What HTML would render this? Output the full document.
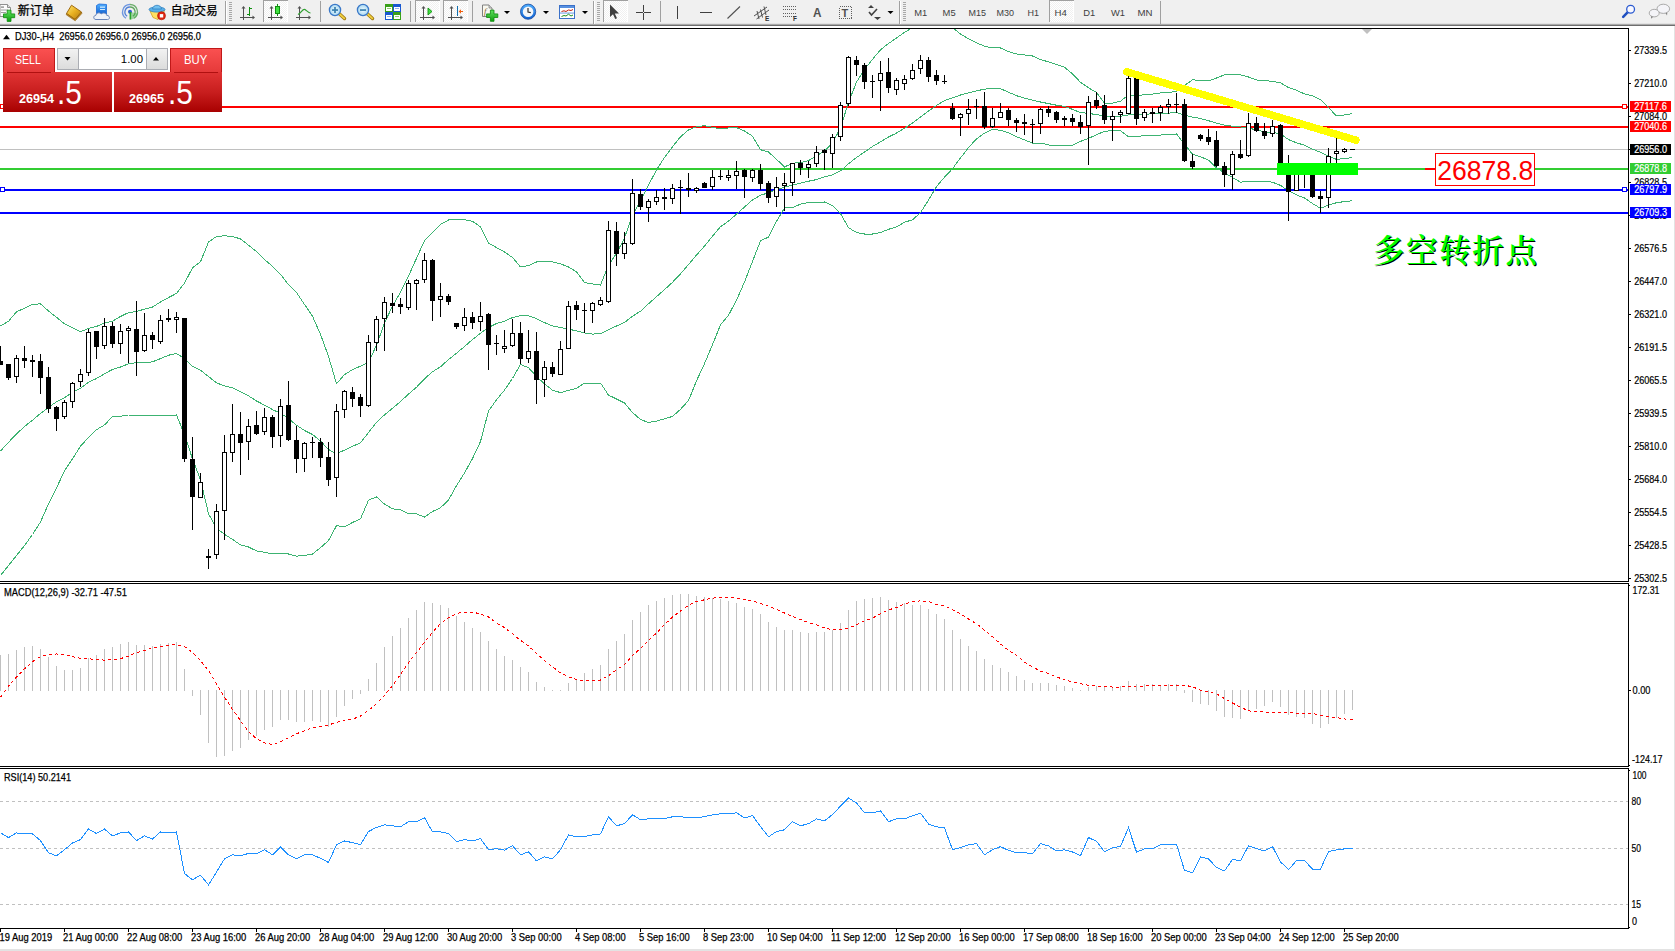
<!DOCTYPE html>
<html><head><meta charset="utf-8"><title>DJ30-,H4</title>
<style>
html,body{margin:0;padding:0;background:#fff;}
body{width:1675px;height:951px;position:relative;overflow:hidden;font-family:"Liberation Sans","Noto Sans CJK SC",sans-serif;}
#tb{position:absolute;left:0;top:0;width:1675px;height:24px;background:#f0f0f0;}
#tbl0{position:absolute;left:0;top:23px;width:1675px;height:1px;background:#e2e2e2;}
#tbl1{position:absolute;left:0;top:24px;width:1675px;height:1px;background:#aaaaaa;}
#tbl2{position:absolute;left:0;top:25px;width:1675px;height:1px;background:#6e6e6e;}
#redge{position:absolute;left:1674px;top:26px;width:1px;height:925px;background:#e3e3e3;}
#bedge{position:absolute;left:0;top:949px;width:1675px;height:2px;background:#e3e3e3;}
</style></head><body>
<svg id="chart" width="1675" height="951" viewBox="0 0 1675 951" style="position:absolute;left:0;top:0" shape-rendering="crispEdges" font-family="Liberation Sans, Arial, sans-serif">
<defs><clipPath id="cm"><rect x="0" y="29" width="1628" height="552"/></clipPath><clipPath id="cd"><rect x="0" y="584" width="1628" height="182"/></clipPath><clipPath id="cr"><rect x="0" y="769" width="1628" height="159"/></clipPath></defs>
<g fill="#000">
<rect x="0" y="28" width="1629" height="1"/>
<rect x="0" y="581" width="1629" height="1"/>
<rect x="0" y="583" width="1629" height="1"/>
<rect x="0" y="766" width="1629" height="1"/>
<rect x="0" y="768" width="1629" height="1"/>
<rect x="0" y="928" width="1629" height="1"/>
<rect x="1628" y="28" width="1" height="554"/>
<rect x="1628" y="583" width="1" height="184"/>
<rect x="1628" y="768" width="1" height="161"/>
<rect x="1629" y="585" width="1" height="1"/>
<rect x="1629" y="765" width="1" height="1"/>
<rect x="1629" y="770" width="1" height="1"/>
<rect x="1629" y="927" width="1" height="1"/>
</g>
<g clip-path="url(#cm)">
<rect x="0" y="149" width="1628" height="1" fill="#c0c0c0"/>
<rect x="0" y="106" width="1628" height="2" fill="#ff0000"/>
<rect x="0" y="126" width="1628" height="2" fill="#ff0000"/>
<rect x="0" y="168" width="1628" height="2" fill="#32cd32"/>
<rect x="0" y="189" width="1628" height="2" fill="#0000ff"/>
<rect x="0" y="212" width="1628" height="2" fill="#0000ff"/>
<rect x="1622.5" y="104.5" width="4" height="4" fill="#fff" stroke="#ff0000" stroke-width="1"/>
<rect x="1622.5" y="187.5" width="4" height="4" fill="#fff" stroke="#0000ff" stroke-width="1"/>
<rect x="0.5" y="187.5" width="4" height="4" fill="#fff" stroke="#0000ff" stroke-width="1"/>
<rect x="0.5" y="104.5" width="4" height="4" fill="#fff" stroke="#ff0000" stroke-width="1"/>
<polyline points="0.5,326.0 8.5,321.3 16.5,311.8 24.5,308.2 32.5,304.2 40.5,303.9 48.5,311.0 56.5,317.3 64.5,323.9 72.5,327.6 80.5,331.8 88.5,328.4 96.5,326.5 104.5,322.8 112.5,321.3 120.5,316.5 128.5,312.6 136.5,311.5 144.5,309.1 152.5,307.1 160.5,302.0 168.5,297.6 176.5,293.4 184.5,283.1 192.5,267.8 200.5,261.8 208.5,242.1 216.5,236.5 224.5,235.8 232.5,236.5 240.5,238.9 248.5,245.2 256.5,251.5 264.5,259.4 272.5,266.5 280.5,274.4 288.5,284.6 296.5,292.5 304.5,304.4 312.5,316.2 320.5,334.3 328.5,356.4 336.5,383.7 344.5,374.6 352.5,369.7 360.5,366.1 368.5,362.5 376.5,345.1 384.5,323.1 392.5,306.0 400.5,292.3 408.5,276.1 416.5,258.3 424.5,240.7 432.5,232.8 440.5,224.4 448.5,220.0 456.5,219.7 464.5,219.7 472.5,221.3 480.5,226.8 488.5,243.0 496.5,247.6 504.5,252.0 512.5,257.5 520.5,267.0 528.5,265.6 536.5,262.0 544.5,261.8 552.5,261.8 560.5,263.8 568.5,267.0 576.5,271.9 584.5,282.5 592.5,283.9 600.5,285.0 608.5,265.0 616.5,253.5 624.5,237.8 632.5,215.7 640.5,200.7 648.5,185.1 656.5,169.9 664.5,157.5 672.5,146.8 680.5,136.8 688.5,129.9 696.5,126.8 704.5,125.7 712.5,127.3 720.5,128.9 728.5,128.0 736.5,127.6 744.5,131.0 752.5,136.2 760.5,149.7 768.5,152.0 776.5,159.3 784.5,167.0 792.5,163.2 800.5,162.5 808.5,160.7 816.5,155.7 824.5,151.0 832.5,143.1 840.5,127.8 848.5,102.5 856.5,82.1 864.5,69.5 872.5,59.3 880.5,49.8 888.5,43.5 896.5,38.0 904.5,32.4 912.5,27.5 920.5,23.5 928.5,21.5 936.5,21.5 944.5,23.5 952.5,27.5 960.5,34.0 968.5,38.8 976.5,42.7 984.5,46.3 992.5,47.9 1000.5,48.0 1008.5,51.7 1016.5,53.9 1024.5,55.0 1032.5,56.0 1040.5,59.7 1048.5,61.8 1056.5,64.5 1064.5,67.3 1072.5,73.9 1080.5,82.3 1088.5,87.8 1096.5,92.5 1104.5,103.1 1112.5,103.1 1120.5,101.2 1128.5,94.9 1136.5,95.2 1144.5,94.9 1152.5,94.1 1160.5,93.0 1168.5,92.5 1176.5,91.3 1184.5,85.5 1192.5,79.9 1200.5,80.3 1208.5,80.8 1216.5,78.0 1224.5,74.8 1232.5,74.8 1240.5,74.8 1248.5,77.0 1256.5,80.0 1264.5,80.5 1272.5,81.4 1280.5,82.9 1288.5,87.6 1296.5,90.3 1304.5,93.9 1312.5,95.8 1320.5,99.7 1328.5,107.6 1336.5,116.0 1344.5,114.9 1352.5,113.6" fill="none" stroke="#3cb371" stroke-width="1" />
<polyline points="0.5,451.0 8.5,442.3 16.5,434.0 24.5,426.5 32.5,420.2 40.5,413.5 48.5,407.5 56.5,401.7 64.5,397.8 72.5,392.2 80.5,388.3 88.5,382.3 96.5,378.5 104.5,373.8 112.5,369.4 120.5,367.0 128.5,363.8 136.5,362.7 144.5,362.7 152.5,361.8 160.5,358.6 168.5,355.2 176.5,353.6 184.5,358.3 192.5,366.2 200.5,370.2 208.5,376.5 216.5,382.9 224.5,385.8 232.5,387.9 240.5,391.8 248.5,395.9 256.5,401.0 264.5,405.1 272.5,409.6 280.5,413.3 288.5,418.5 296.5,425.2 304.5,430.5 312.5,434.5 320.5,441.0 328.5,449.5 336.5,453.7 344.5,450.1 352.5,446.3 360.5,442.9 368.5,432.5 376.5,422.3 384.5,414.9 392.5,408.3 400.5,401.5 408.5,394.1 416.5,387.3 424.5,378.8 432.5,371.8 440.5,366.8 448.5,359.6 456.5,353.2 464.5,346.5 472.5,339.6 480.5,333.3 488.5,327.5 496.5,323.5 504.5,321.3 512.5,317.5 520.5,315.7 528.5,315.9 536.5,318.6 544.5,322.6 552.5,325.9 560.5,327.6 568.5,329.1 576.5,330.9 584.5,333.0 592.5,334.1 600.5,333.7 608.5,329.6 616.5,326.0 624.5,322.5 632.5,316.2 640.5,311.2 648.5,303.8 656.5,296.7 664.5,289.6 672.5,282.3 680.5,273.8 688.5,264.6 696.5,255.1 704.5,246.1 712.5,236.2 720.5,226.7 728.5,221.2 736.5,214.1 744.5,207.0 752.5,199.9 760.5,195.2 768.5,192.8 776.5,189.8 784.5,187.1 792.5,185.1 800.5,183.2 808.5,181.2 816.5,179.6 824.5,176.9 832.5,174.9 840.5,170.9 848.5,163.8 856.5,157.5 864.5,152.0 872.5,146.5 880.5,141.8 888.5,137.0 896.5,133.1 904.5,128.3 912.5,123.0 920.5,117.0 928.5,111.1 936.5,105.5 944.5,100.7 952.5,97.8 960.5,95.0 968.5,92.9 976.5,90.8 984.5,89.2 992.5,88.4 1000.5,88.7 1008.5,92.2 1016.5,95.7 1024.5,98.1 1032.5,100.1 1040.5,102.0 1048.5,103.6 1056.5,105.2 1064.5,106.4 1072.5,109.4 1080.5,112.6 1088.5,113.4 1096.5,114.6 1104.5,115.9 1112.5,116.2 1120.5,116.2 1128.5,114.9 1136.5,114.6 1144.5,114.3 1152.5,113.8 1160.5,113.4 1168.5,113.1 1176.5,112.7 1184.5,115.0 1192.5,117.1 1200.5,118.5 1208.5,120.7 1216.5,123.1 1224.5,125.1 1232.5,126.2 1240.5,127.0 1248.5,127.8 1256.5,130.2 1264.5,131.8 1272.5,132.5 1280.5,133.7 1288.5,139.6 1296.5,142.8 1304.5,145.2 1312.5,149.1 1320.5,152.3 1328.5,156.2 1336.5,159.4 1344.5,158.6 1352.5,157.5" fill="none" stroke="#3cb371" stroke-width="1" />
<polyline points="0.5,575.5 8.5,565.5 16.5,555.5 24.5,545.5 32.5,534.5 40.5,522.0 48.5,503.8 56.5,488.0 64.5,470.7 72.5,458.9 80.5,446.2 88.5,437.5 96.5,429.7 104.5,424.9 112.5,416.7 120.5,416.3 128.5,415.0 136.5,415.0 144.5,415.0 152.5,415.0 160.5,416.0 168.5,415.2 176.5,415.0 184.5,434.5 192.5,459.0 200.5,479.7 208.5,513.8 216.5,528.0 224.5,534.3 232.5,539.4 240.5,544.9 248.5,547.0 256.5,550.9 264.5,552.2 272.5,554.0 280.5,553.3 288.5,554.0 296.5,556.1 304.5,555.5 312.5,554.0 320.5,547.7 328.5,540.6 336.5,525.7 344.5,526.9 352.5,522.5 360.5,518.9 368.5,500.2 376.5,496.9 384.5,504.1 392.5,508.8 400.5,509.9 408.5,513.9 416.5,513.9 424.5,517.0 432.5,511.5 440.5,507.8 448.5,499.9 456.5,485.7 464.5,473.0 472.5,458.5 480.5,441.5 488.5,411.0 496.5,399.8 504.5,390.1 512.5,378.5 520.5,364.5 528.5,367.7 536.5,376.5 544.5,383.9 552.5,390.2 560.5,392.6 568.5,390.4 576.5,388.5 584.5,383.0 592.5,383.0 600.5,383.0 608.5,395.1 616.5,399.0 624.5,403.0 632.5,412.5 640.5,419.5 648.5,422.5 656.5,421.1 664.5,418.8 672.5,416.4 680.5,409.3 688.5,400.6 696.5,380.9 704.5,363.6 712.5,344.6 720.5,324.9 728.5,315.3 736.5,300.1 744.5,282.0 752.5,261.4 760.5,240.9 768.5,237.0 776.5,221.3 784.5,207.9 792.5,207.6 800.5,204.1 808.5,202.5 816.5,202.5 824.5,202.0 832.5,205.6 840.5,213.5 848.5,227.7 856.5,232.5 864.5,234.0 872.5,234.0 880.5,232.5 888.5,229.3 896.5,226.9 904.5,222.2 912.5,219.8 920.5,212.7 928.5,200.1 936.5,186.7 944.5,177.1 952.5,168.7 960.5,158.0 968.5,147.5 976.5,138.9 984.5,133.1 992.5,129.4 1000.5,130.3 1008.5,132.7 1016.5,136.7 1024.5,139.9 1032.5,143.0 1040.5,143.0 1048.5,144.9 1056.5,145.9 1064.5,145.9 1072.5,145.4 1080.5,141.4 1088.5,138.3 1096.5,134.8 1104.5,131.2 1112.5,130.7 1120.5,130.7 1128.5,136.7 1136.5,136.7 1144.5,135.5 1152.5,135.5 1160.5,135.1 1168.5,134.3 1176.5,134.0 1184.5,144.1 1192.5,154.3 1200.5,156.7 1208.5,160.2 1216.5,168.0 1224.5,172.8 1232.5,177.5 1240.5,182.2 1248.5,181.4 1256.5,181.1 1264.5,181.4 1272.5,182.2 1280.5,185.4 1288.5,190.9 1296.5,194.9 1304.5,198.0 1312.5,203.5 1320.5,208.3 1328.5,205.1 1336.5,202.7 1344.5,201.6 1352.5,200.7" fill="none" stroke="#3cb371" stroke-width="1" />
<g fill="#000">
<rect x="0" y="346" width="1" height="19"/>
<rect x="-2" y="361" width="5" height="4"/>
<rect x="8" y="364" width="1" height="16"/>
<rect x="6" y="364" width="5" height="14"/>
<rect x="16" y="355" width="1" height="28"/>
<rect x="14" y="358" width="5" height="19"/>
<rect x="15" y="359" width="3" height="17" fill="#fff"/>
<rect x="24" y="346" width="1" height="22"/>
<rect x="22" y="358" width="5" height="3"/>
<rect x="32" y="355" width="1" height="22"/>
<rect x="30" y="360" width="5" height="2"/>
<rect x="40" y="354" width="1" height="40"/>
<rect x="38" y="361" width="5" height="17"/>
<rect x="48" y="367" width="1" height="46"/>
<rect x="46" y="377" width="5" height="32"/>
<rect x="56" y="406" width="1" height="25"/>
<rect x="54" y="407" width="5" height="12"/>
<rect x="64" y="400" width="1" height="19"/>
<rect x="62" y="402" width="5" height="15"/>
<rect x="63" y="403" width="3" height="13" fill="#fff"/>
<rect x="72" y="382" width="1" height="26"/>
<rect x="70" y="383" width="5" height="19"/>
<rect x="71" y="384" width="3" height="17" fill="#fff"/>
<rect x="80" y="369" width="1" height="18"/>
<rect x="78" y="374" width="5" height="8"/>
<rect x="79" y="375" width="3" height="6" fill="#fff"/>
<rect x="88" y="329" width="1" height="47"/>
<rect x="86" y="332" width="5" height="41"/>
<rect x="87" y="333" width="3" height="39" fill="#fff"/>
<rect x="96" y="331" width="1" height="28"/>
<rect x="94" y="331" width="5" height="16"/>
<rect x="104" y="318" width="1" height="31"/>
<rect x="102" y="326" width="5" height="20"/>
<rect x="103" y="327" width="3" height="18" fill="#fff"/>
<rect x="112" y="322" width="1" height="26"/>
<rect x="110" y="326" width="5" height="18"/>
<rect x="120" y="324" width="1" height="30"/>
<rect x="118" y="331" width="5" height="13"/>
<rect x="119" y="332" width="3" height="11" fill="#fff"/>
<rect x="128" y="326" width="1" height="37"/>
<rect x="126" y="328" width="5" height="3"/>
<rect x="127" y="329" width="3" height="1" fill="#fff"/>
<rect x="136" y="301" width="1" height="75"/>
<rect x="134" y="329" width="5" height="23"/>
<rect x="144" y="313" width="1" height="39"/>
<rect x="142" y="335" width="5" height="16"/>
<rect x="143" y="336" width="3" height="14" fill="#fff"/>
<rect x="152" y="332" width="1" height="17"/>
<rect x="150" y="335" width="5" height="5"/>
<rect x="160" y="315" width="1" height="29"/>
<rect x="158" y="320" width="5" height="22"/>
<rect x="159" y="321" width="3" height="20" fill="#fff"/>
<rect x="168" y="309" width="1" height="13"/>
<rect x="166" y="318" width="5" height="2"/>
<rect x="176" y="312" width="1" height="21"/>
<rect x="174" y="317" width="5" height="3"/>
<rect x="175" y="318" width="3" height="1" fill="#fff"/>
<rect x="184" y="318" width="1" height="144"/>
<rect x="182" y="318" width="5" height="141"/>
<rect x="192" y="437" width="1" height="93"/>
<rect x="190" y="459" width="5" height="38"/>
<rect x="200" y="473" width="1" height="25"/>
<rect x="198" y="482" width="5" height="16"/>
<rect x="199" y="483" width="3" height="14" fill="#fff"/>
<rect x="208" y="549" width="1" height="20"/>
<rect x="206" y="556" width="5" height="2"/>
<rect x="216" y="504" width="1" height="55"/>
<rect x="214" y="511" width="5" height="44"/>
<rect x="215" y="512" width="3" height="42" fill="#fff"/>
<rect x="224" y="435" width="1" height="105"/>
<rect x="222" y="452" width="5" height="59"/>
<rect x="223" y="453" width="3" height="57" fill="#fff"/>
<rect x="232" y="404" width="1" height="58"/>
<rect x="230" y="434" width="5" height="19"/>
<rect x="231" y="435" width="3" height="17" fill="#fff"/>
<rect x="240" y="412" width="1" height="63"/>
<rect x="238" y="434" width="5" height="9"/>
<rect x="248" y="419" width="1" height="41"/>
<rect x="246" y="426" width="5" height="16"/>
<rect x="247" y="427" width="3" height="14" fill="#fff"/>
<rect x="256" y="411" width="1" height="24"/>
<rect x="254" y="425" width="5" height="9"/>
<rect x="264" y="408" width="1" height="27"/>
<rect x="262" y="417" width="5" height="15"/>
<rect x="263" y="418" width="3" height="13" fill="#fff"/>
<rect x="272" y="415" width="1" height="33"/>
<rect x="270" y="417" width="5" height="20"/>
<rect x="280" y="399" width="1" height="48"/>
<rect x="278" y="406" width="5" height="30"/>
<rect x="279" y="407" width="3" height="28" fill="#fff"/>
<rect x="288" y="381" width="1" height="60"/>
<rect x="286" y="405" width="5" height="35"/>
<rect x="296" y="426" width="1" height="47"/>
<rect x="294" y="440" width="5" height="19"/>
<rect x="304" y="442" width="1" height="30"/>
<rect x="302" y="443" width="5" height="16"/>
<rect x="303" y="444" width="3" height="14" fill="#fff"/>
<rect x="312" y="437" width="1" height="21"/>
<rect x="310" y="442" width="5" height="1"/>
<rect x="320" y="438" width="1" height="29"/>
<rect x="318" y="442" width="5" height="16"/>
<rect x="328" y="442" width="1" height="44"/>
<rect x="326" y="457" width="5" height="23"/>
<rect x="336" y="404" width="1" height="93"/>
<rect x="334" y="411" width="5" height="67"/>
<rect x="335" y="412" width="3" height="65" fill="#fff"/>
<rect x="344" y="390" width="1" height="28"/>
<rect x="342" y="391" width="5" height="19"/>
<rect x="343" y="392" width="3" height="17" fill="#fff"/>
<rect x="352" y="387" width="1" height="20"/>
<rect x="350" y="392" width="5" height="7"/>
<rect x="360" y="394" width="1" height="23"/>
<rect x="358" y="397" width="5" height="9"/>
<rect x="368" y="335" width="1" height="72"/>
<rect x="366" y="342" width="5" height="64"/>
<rect x="367" y="343" width="3" height="62" fill="#fff"/>
<rect x="376" y="316" width="1" height="35"/>
<rect x="374" y="319" width="5" height="24"/>
<rect x="375" y="320" width="3" height="22" fill="#fff"/>
<rect x="384" y="297" width="1" height="54"/>
<rect x="382" y="302" width="5" height="17"/>
<rect x="383" y="303" width="3" height="15" fill="#fff"/>
<rect x="392" y="293" width="1" height="20"/>
<rect x="390" y="303" width="5" height="3"/>
<rect x="400" y="298" width="1" height="16"/>
<rect x="398" y="304" width="5" height="3"/>
<rect x="408" y="280" width="1" height="30"/>
<rect x="406" y="283" width="5" height="25"/>
<rect x="407" y="284" width="3" height="23" fill="#fff"/>
<rect x="416" y="279" width="1" height="31"/>
<rect x="414" y="280" width="5" height="4"/>
<rect x="415" y="281" width="3" height="2" fill="#fff"/>
<rect x="424" y="253" width="1" height="30"/>
<rect x="422" y="260" width="5" height="20"/>
<rect x="423" y="261" width="3" height="18" fill="#fff"/>
<rect x="432" y="259" width="1" height="62"/>
<rect x="430" y="260" width="5" height="41"/>
<rect x="440" y="283" width="1" height="34"/>
<rect x="438" y="296" width="5" height="4"/>
<rect x="439" y="297" width="3" height="2" fill="#fff"/>
<rect x="448" y="294" width="1" height="11"/>
<rect x="446" y="296" width="5" height="6"/>
<rect x="456" y="323" width="1" height="6"/>
<rect x="454" y="323" width="5" height="4"/>
<rect x="464" y="308" width="1" height="23"/>
<rect x="462" y="317" width="5" height="9"/>
<rect x="463" y="318" width="3" height="7" fill="#fff"/>
<rect x="472" y="312" width="1" height="17"/>
<rect x="470" y="317" width="5" height="6"/>
<rect x="480" y="302" width="1" height="29"/>
<rect x="478" y="316" width="5" height="6"/>
<rect x="479" y="317" width="3" height="4" fill="#fff"/>
<rect x="488" y="313" width="1" height="57"/>
<rect x="486" y="314" width="5" height="31"/>
<rect x="496" y="335" width="1" height="20"/>
<rect x="494" y="343" width="5" height="1"/>
<rect x="504" y="330" width="1" height="23"/>
<rect x="502" y="346" width="5" height="3"/>
<rect x="503" y="347" width="3" height="1" fill="#fff"/>
<rect x="512" y="319" width="1" height="28"/>
<rect x="510" y="333" width="5" height="13"/>
<rect x="511" y="334" width="3" height="11" fill="#fff"/>
<rect x="520" y="322" width="1" height="42"/>
<rect x="518" y="333" width="5" height="26"/>
<rect x="528" y="330" width="1" height="33"/>
<rect x="526" y="351" width="5" height="8"/>
<rect x="527" y="352" width="3" height="6" fill="#fff"/>
<rect x="536" y="332" width="1" height="72"/>
<rect x="534" y="351" width="5" height="29"/>
<rect x="544" y="361" width="1" height="36"/>
<rect x="542" y="367" width="5" height="13"/>
<rect x="543" y="368" width="3" height="11" fill="#fff"/>
<rect x="552" y="362" width="1" height="15"/>
<rect x="550" y="367" width="5" height="7"/>
<rect x="560" y="341" width="1" height="34"/>
<rect x="558" y="349" width="5" height="26"/>
<rect x="559" y="350" width="3" height="24" fill="#fff"/>
<rect x="568" y="301" width="1" height="48"/>
<rect x="566" y="306" width="5" height="43"/>
<rect x="567" y="307" width="3" height="41" fill="#fff"/>
<rect x="576" y="301" width="1" height="19"/>
<rect x="574" y="305" width="5" height="5"/>
<rect x="584" y="303" width="1" height="30"/>
<rect x="582" y="310" width="5" height="1"/>
<rect x="592" y="302" width="1" height="21"/>
<rect x="590" y="303" width="5" height="8"/>
<rect x="591" y="304" width="3" height="6" fill="#fff"/>
<rect x="600" y="297" width="1" height="9"/>
<rect x="598" y="300" width="5" height="5"/>
<rect x="599" y="301" width="3" height="3" fill="#fff"/>
<rect x="608" y="221" width="1" height="82"/>
<rect x="606" y="230" width="5" height="72"/>
<rect x="607" y="231" width="3" height="70" fill="#fff"/>
<rect x="616" y="222" width="1" height="44"/>
<rect x="614" y="231" width="5" height="23"/>
<rect x="624" y="232" width="1" height="27"/>
<rect x="622" y="243" width="5" height="11"/>
<rect x="623" y="244" width="3" height="9" fill="#fff"/>
<rect x="632" y="179" width="1" height="66"/>
<rect x="630" y="193" width="5" height="51"/>
<rect x="631" y="194" width="3" height="49" fill="#fff"/>
<rect x="640" y="189" width="1" height="21"/>
<rect x="638" y="194" width="5" height="13"/>
<rect x="648" y="199" width="1" height="23"/>
<rect x="646" y="201" width="5" height="7"/>
<rect x="647" y="202" width="3" height="5" fill="#fff"/>
<rect x="656" y="190" width="1" height="15"/>
<rect x="654" y="197" width="5" height="5"/>
<rect x="655" y="198" width="3" height="3" fill="#fff"/>
<rect x="664" y="188" width="1" height="22"/>
<rect x="662" y="197" width="5" height="2"/>
<rect x="672" y="184" width="1" height="20"/>
<rect x="670" y="188" width="5" height="11"/>
<rect x="671" y="189" width="3" height="9" fill="#fff"/>
<rect x="680" y="180" width="1" height="34"/>
<rect x="678" y="187" width="5" height="1"/>
<rect x="688" y="173" width="1" height="24"/>
<rect x="686" y="188" width="5" height="2"/>
<rect x="696" y="187" width="1" height="6"/>
<rect x="694" y="188" width="5" height="3"/>
<rect x="695" y="189" width="3" height="1" fill="#fff"/>
<rect x="704" y="182" width="1" height="6"/>
<rect x="702" y="183" width="5" height="5"/>
<rect x="712" y="170" width="1" height="20"/>
<rect x="710" y="177" width="5" height="10"/>
<rect x="711" y="178" width="3" height="8" fill="#fff"/>
<rect x="720" y="170" width="1" height="10"/>
<rect x="718" y="176" width="5" height="1"/>
<rect x="728" y="170" width="1" height="11"/>
<rect x="726" y="175" width="5" height="3"/>
<rect x="727" y="176" width="3" height="1" fill="#fff"/>
<rect x="736" y="161" width="1" height="28"/>
<rect x="734" y="171" width="5" height="5"/>
<rect x="735" y="172" width="3" height="3" fill="#fff"/>
<rect x="744" y="169" width="1" height="29"/>
<rect x="742" y="170" width="5" height="7"/>
<rect x="752" y="169" width="1" height="13"/>
<rect x="750" y="170" width="5" height="8"/>
<rect x="751" y="171" width="3" height="6" fill="#fff"/>
<rect x="760" y="164" width="1" height="26"/>
<rect x="758" y="170" width="5" height="14"/>
<rect x="768" y="181" width="1" height="22"/>
<rect x="766" y="183" width="5" height="15"/>
<rect x="776" y="177" width="1" height="30"/>
<rect x="774" y="187" width="5" height="10"/>
<rect x="775" y="188" width="3" height="8" fill="#fff"/>
<rect x="784" y="173" width="1" height="38"/>
<rect x="782" y="183" width="5" height="3"/>
<rect x="783" y="184" width="3" height="1" fill="#fff"/>
<rect x="792" y="163" width="1" height="33"/>
<rect x="790" y="163" width="5" height="20"/>
<rect x="791" y="164" width="3" height="18" fill="#fff"/>
<rect x="800" y="160" width="1" height="15"/>
<rect x="798" y="163" width="5" height="5"/>
<rect x="808" y="161" width="1" height="17"/>
<rect x="806" y="164" width="5" height="4"/>
<rect x="807" y="165" width="3" height="2" fill="#fff"/>
<rect x="816" y="146" width="1" height="21"/>
<rect x="814" y="152" width="5" height="12"/>
<rect x="815" y="153" width="3" height="10" fill="#fff"/>
<rect x="824" y="149" width="1" height="21"/>
<rect x="822" y="150" width="5" height="3"/>
<rect x="832" y="134" width="1" height="34"/>
<rect x="830" y="137" width="5" height="17"/>
<rect x="831" y="138" width="3" height="15" fill="#fff"/>
<rect x="840" y="102" width="1" height="39"/>
<rect x="838" y="105" width="5" height="32"/>
<rect x="839" y="106" width="3" height="30" fill="#fff"/>
<rect x="848" y="56" width="1" height="50"/>
<rect x="846" y="57" width="5" height="47"/>
<rect x="847" y="58" width="3" height="45" fill="#fff"/>
<rect x="856" y="56" width="1" height="20"/>
<rect x="854" y="60" width="5" height="5"/>
<rect x="864" y="63" width="1" height="26"/>
<rect x="862" y="65" width="5" height="17"/>
<rect x="872" y="75" width="1" height="23"/>
<rect x="870" y="81" width="5" height="1"/>
<rect x="880" y="61" width="1" height="50"/>
<rect x="878" y="73" width="5" height="8"/>
<rect x="879" y="74" width="3" height="6" fill="#fff"/>
<rect x="888" y="58" width="1" height="35"/>
<rect x="886" y="72" width="5" height="16"/>
<rect x="896" y="78" width="1" height="17"/>
<rect x="894" y="80" width="5" height="10"/>
<rect x="895" y="81" width="3" height="8" fill="#fff"/>
<rect x="904" y="75" width="1" height="15"/>
<rect x="902" y="79" width="5" height="5"/>
<rect x="903" y="80" width="3" height="3" fill="#fff"/>
<rect x="912" y="64" width="1" height="16"/>
<rect x="910" y="70" width="5" height="9"/>
<rect x="911" y="71" width="3" height="7" fill="#fff"/>
<rect x="920" y="55" width="1" height="19"/>
<rect x="918" y="60" width="5" height="9"/>
<rect x="919" y="61" width="3" height="7" fill="#fff"/>
<rect x="928" y="57" width="1" height="25"/>
<rect x="926" y="60" width="5" height="17"/>
<rect x="936" y="70" width="1" height="15"/>
<rect x="934" y="75" width="5" height="6"/>
<rect x="944" y="75" width="1" height="9"/>
<rect x="942" y="81" width="5" height="1"/>
<rect x="952" y="103" width="1" height="17"/>
<rect x="950" y="108" width="5" height="11"/>
<rect x="960" y="113" width="1" height="23"/>
<rect x="958" y="114" width="5" height="4"/>
<rect x="959" y="115" width="3" height="2" fill="#fff"/>
<rect x="968" y="99" width="1" height="26"/>
<rect x="966" y="109" width="5" height="5"/>
<rect x="967" y="110" width="3" height="3" fill="#fff"/>
<rect x="976" y="99" width="1" height="20"/>
<rect x="974" y="106" width="5" height="1"/>
<rect x="984" y="92" width="1" height="37"/>
<rect x="982" y="106" width="5" height="21"/>
<rect x="992" y="108" width="1" height="20"/>
<rect x="990" y="118" width="5" height="9"/>
<rect x="991" y="119" width="3" height="7" fill="#fff"/>
<rect x="1000" y="103" width="1" height="15"/>
<rect x="998" y="112" width="5" height="6"/>
<rect x="999" y="113" width="3" height="4" fill="#fff"/>
<rect x="1008" y="108" width="1" height="18"/>
<rect x="1006" y="110" width="5" height="10"/>
<rect x="1016" y="118" width="1" height="14"/>
<rect x="1014" y="120" width="5" height="3"/>
<rect x="1024" y="114" width="1" height="21"/>
<rect x="1022" y="122" width="5" height="2"/>
<rect x="1032" y="119" width="1" height="24"/>
<rect x="1030" y="124" width="5" height="1"/>
<rect x="1040" y="108" width="1" height="26"/>
<rect x="1038" y="109" width="5" height="15"/>
<rect x="1039" y="110" width="3" height="13" fill="#fff"/>
<rect x="1048" y="106" width="1" height="11"/>
<rect x="1046" y="109" width="5" height="4"/>
<rect x="1056" y="111" width="1" height="12"/>
<rect x="1054" y="112" width="5" height="8"/>
<rect x="1064" y="116" width="1" height="10"/>
<rect x="1062" y="118" width="5" height="2"/>
<rect x="1072" y="114" width="1" height="12"/>
<rect x="1070" y="118" width="5" height="4"/>
<rect x="1080" y="115" width="1" height="19"/>
<rect x="1078" y="122" width="5" height="5"/>
<rect x="1088" y="96" width="1" height="69"/>
<rect x="1086" y="102" width="5" height="24"/>
<rect x="1087" y="103" width="3" height="22" fill="#fff"/>
<rect x="1096" y="92" width="1" height="17"/>
<rect x="1094" y="100" width="5" height="6"/>
<rect x="1104" y="95" width="1" height="29"/>
<rect x="1102" y="105" width="5" height="15"/>
<rect x="1112" y="111" width="1" height="30"/>
<rect x="1110" y="116" width="5" height="4"/>
<rect x="1111" y="117" width="3" height="2" fill="#fff"/>
<rect x="1120" y="110" width="1" height="13"/>
<rect x="1118" y="112" width="5" height="3"/>
<rect x="1119" y="113" width="3" height="1" fill="#fff"/>
<rect x="1128" y="76" width="1" height="38"/>
<rect x="1126" y="78" width="5" height="36"/>
<rect x="1127" y="79" width="3" height="34" fill="#fff"/>
<rect x="1136" y="78" width="1" height="47"/>
<rect x="1134" y="78" width="5" height="41"/>
<rect x="1144" y="109" width="1" height="12"/>
<rect x="1142" y="112" width="5" height="6"/>
<rect x="1143" y="113" width="3" height="4" fill="#fff"/>
<rect x="1152" y="108" width="1" height="15"/>
<rect x="1150" y="112" width="5" height="2"/>
<rect x="1160" y="105" width="1" height="16"/>
<rect x="1158" y="107" width="5" height="6"/>
<rect x="1159" y="108" width="3" height="4" fill="#fff"/>
<rect x="1168" y="99" width="1" height="15"/>
<rect x="1166" y="104" width="5" height="3"/>
<rect x="1167" y="105" width="3" height="1" fill="#fff"/>
<rect x="1176" y="93" width="1" height="20"/>
<rect x="1174" y="104" width="5" height="1"/>
<rect x="1184" y="99" width="1" height="63"/>
<rect x="1182" y="104" width="5" height="57"/>
<rect x="1192" y="154" width="1" height="15"/>
<rect x="1190" y="161" width="5" height="6"/>
<rect x="1200" y="134" width="1" height="7"/>
<rect x="1198" y="135" width="5" height="4"/>
<rect x="1208" y="129" width="1" height="16"/>
<rect x="1206" y="137" width="5" height="5"/>
<rect x="1216" y="131" width="1" height="36"/>
<rect x="1214" y="140" width="5" height="26"/>
<rect x="1224" y="162" width="1" height="25"/>
<rect x="1222" y="166" width="5" height="9"/>
<rect x="1232" y="151" width="1" height="39"/>
<rect x="1230" y="154" width="5" height="21"/>
<rect x="1231" y="155" width="3" height="19" fill="#fff"/>
<rect x="1240" y="140" width="1" height="19"/>
<rect x="1238" y="154" width="5" height="4"/>
<rect x="1248" y="113" width="1" height="44"/>
<rect x="1246" y="123" width="5" height="33"/>
<rect x="1247" y="124" width="3" height="31" fill="#fff"/>
<rect x="1256" y="117" width="1" height="15"/>
<rect x="1254" y="123" width="5" height="8"/>
<rect x="1264" y="123" width="1" height="16"/>
<rect x="1262" y="131" width="5" height="5"/>
<rect x="1272" y="120" width="1" height="17"/>
<rect x="1270" y="126" width="5" height="8"/>
<rect x="1271" y="127" width="3" height="6" fill="#fff"/>
<rect x="1280" y="124" width="1" height="44"/>
<rect x="1278" y="125" width="5" height="43"/>
<rect x="1288" y="155" width="1" height="66"/>
<rect x="1286" y="168" width="5" height="24"/>
<rect x="1296" y="168" width="1" height="23"/>
<rect x="1294" y="170" width="5" height="21"/>
<rect x="1295" y="171" width="3" height="19" fill="#fff"/>
<rect x="1304" y="166" width="1" height="22"/>
<rect x="1302" y="170" width="5" height="1"/>
<rect x="1312" y="168" width="1" height="30"/>
<rect x="1310" y="170" width="5" height="27"/>
<rect x="1320" y="191" width="1" height="22"/>
<rect x="1318" y="196" width="5" height="3"/>
<rect x="1328" y="148" width="1" height="60"/>
<rect x="1326" y="156" width="5" height="42"/>
<rect x="1327" y="157" width="3" height="40" fill="#fff"/>
<rect x="1336" y="138" width="1" height="26"/>
<rect x="1334" y="151" width="5" height="3"/>
<rect x="1335" y="152" width="3" height="1" fill="#fff"/>
<rect x="1344" y="148" width="1" height="5"/>
<rect x="1342" y="149" width="5" height="3"/>
<rect x="1343" y="150" width="3" height="1" fill="#fff"/>
<rect x="1350" y="149" width="5" height="1"/>
</g>
<line x1="1126.6" y1="71.8" x2="1356" y2="140.2" stroke="#ffff00" stroke-width="7.5" stroke-linecap="round" shape-rendering="crispEdges"/>
<rect x="1277" y="163" width="81" height="12" fill="#00ff00"/>
</g>
<rect x="1425" y="168" width="11" height="2" fill="#ff0000"/>
<rect x="1435.5" y="153.5" width="99" height="32" fill="#fff" stroke="#ff0000" stroke-width="1"/>
<text x="1437.2" y="179.6" font-size="27.4" fill="#ff0000" textLength="96" lengthAdjust="spacingAndGlyphs" shape-rendering="auto">26878.8</text>
<text x="1374" y="262.5" font-size="31.5" font-weight="600" font-family="Liberation Serif, Noto Serif CJK SC, serif" textLength="164" lengthAdjust="spacing" shape-rendering="auto" fill="#000">多空转折点</text>
<text x="1373" y="261.5" font-size="31.5" font-weight="600" font-family="Liberation Serif, Noto Serif CJK SC, serif" textLength="164" lengthAdjust="spacing" shape-rendering="auto" fill="#00ff00">多空转折点</text>
<g font-size="10.3" fill="#000" stroke="#000" stroke-width="0.2">
<rect x="1629" y="50" width="2" height="1" stroke="none"/>
<text x="1634.2" y="53.5" textLength="32.8" lengthAdjust="spacingAndGlyphs">27339.5</text>
<rect x="1629" y="83" width="2" height="1" stroke="none"/>
<text x="1634.2" y="86.5" textLength="32.8" lengthAdjust="spacingAndGlyphs">27210.0</text>
<rect x="1629" y="116" width="2" height="1" stroke="none"/>
<text x="1634.2" y="119.5" textLength="32.8" lengthAdjust="spacingAndGlyphs">27084.0</text>
<rect x="1629" y="149" width="2" height="1" stroke="none"/>
<text x="1634.2" y="152.5" textLength="32.8" lengthAdjust="spacingAndGlyphs">26956.0</text>
<rect x="1629" y="182" width="2" height="1" stroke="none"/>
<text x="1634.2" y="185.5" textLength="32.8" lengthAdjust="spacingAndGlyphs">26828.5</text>
<rect x="1629" y="215" width="2" height="1" stroke="none"/>
<text x="1634.2" y="218.5" textLength="32.8" lengthAdjust="spacingAndGlyphs">26702.5</text>
<rect x="1629" y="248" width="2" height="1" stroke="none"/>
<text x="1634.2" y="251.5" textLength="32.8" lengthAdjust="spacingAndGlyphs">26576.5</text>
<rect x="1629" y="281" width="2" height="1" stroke="none"/>
<text x="1634.2" y="284.5" textLength="32.8" lengthAdjust="spacingAndGlyphs">26447.0</text>
<rect x="1629" y="314" width="2" height="1" stroke="none"/>
<text x="1634.2" y="317.5" textLength="32.8" lengthAdjust="spacingAndGlyphs">26321.0</text>
<rect x="1629" y="347" width="2" height="1" stroke="none"/>
<text x="1634.2" y="350.5" textLength="32.8" lengthAdjust="spacingAndGlyphs">26191.5</text>
<rect x="1629" y="380" width="2" height="1" stroke="none"/>
<text x="1634.2" y="383.5" textLength="32.8" lengthAdjust="spacingAndGlyphs">26065.5</text>
<rect x="1629" y="413" width="2" height="1" stroke="none"/>
<text x="1634.2" y="416.5" textLength="32.8" lengthAdjust="spacingAndGlyphs">25939.5</text>
<rect x="1629" y="446" width="2" height="1" stroke="none"/>
<text x="1634.2" y="449.5" textLength="32.8" lengthAdjust="spacingAndGlyphs">25810.0</text>
<rect x="1629" y="479" width="2" height="1" stroke="none"/>
<text x="1634.2" y="482.5" textLength="32.8" lengthAdjust="spacingAndGlyphs">25684.0</text>
<rect x="1629" y="512" width="2" height="1" stroke="none"/>
<text x="1634.2" y="515.5" textLength="32.8" lengthAdjust="spacingAndGlyphs">25554.5</text>
<rect x="1629" y="545" width="2" height="1" stroke="none"/>
<text x="1634.2" y="548.5" textLength="32.8" lengthAdjust="spacingAndGlyphs">25428.5</text>
<rect x="1629" y="578" width="2" height="1" stroke="none"/>
<text x="1634.2" y="581.5" textLength="32.8" lengthAdjust="spacingAndGlyphs">25302.5</text>
</g>
<rect x="1630" y="101" width="41" height="11" fill="#ff0000"/>
<text x="1634.2" y="109.5" font-size="10.3" fill="#fff" stroke="#fff" stroke-width="0.2" textLength="32.8" lengthAdjust="spacingAndGlyphs">27117.6</text>
<rect x="1630" y="121" width="41" height="11" fill="#ff0000"/>
<text x="1634.2" y="129.5" font-size="10.3" fill="#fff" stroke="#fff" stroke-width="0.2" textLength="32.8" lengthAdjust="spacingAndGlyphs">27040.6</text>
<rect x="1630" y="144" width="41" height="11" fill="#000000"/>
<text x="1634.2" y="152.5" font-size="10.3" fill="#fff" stroke="#fff" stroke-width="0.2" textLength="32.8" lengthAdjust="spacingAndGlyphs">26956.0</text>
<rect x="1630" y="163" width="41" height="11" fill="#32cd32"/>
<text x="1634.2" y="171.5" font-size="10.3" fill="#fff" stroke="#fff" stroke-width="0.2" textLength="32.8" lengthAdjust="spacingAndGlyphs">26878.8</text>
<rect x="1630" y="184" width="41" height="11" fill="#0000ff"/>
<text x="1634.2" y="192.5" font-size="10.3" fill="#fff" stroke="#fff" stroke-width="0.2" textLength="32.8" lengthAdjust="spacingAndGlyphs">26797.9</text>
<rect x="1630" y="207" width="41" height="11" fill="#0000ff"/>
<text x="1634.2" y="215.5" font-size="10.3" fill="#fff" stroke="#fff" stroke-width="0.2" textLength="32.8" lengthAdjust="spacingAndGlyphs">26709.3</text>
<g clip-path="url(#cd)">
<g fill="#c0c0c0">
<rect x="0" y="655" width="1" height="36"/>
<rect x="8" y="654" width="1" height="37"/>
<rect x="16" y="650" width="1" height="41"/>
<rect x="24" y="647" width="1" height="44"/>
<rect x="32" y="646" width="1" height="45"/>
<rect x="40" y="649" width="1" height="42"/>
<rect x="48" y="657" width="1" height="34"/>
<rect x="56" y="666" width="1" height="25"/>
<rect x="64" y="670" width="1" height="21"/>
<rect x="72" y="670" width="1" height="21"/>
<rect x="80" y="668" width="1" height="23"/>
<rect x="88" y="658" width="1" height="33"/>
<rect x="96" y="655" width="1" height="36"/>
<rect x="104" y="649" width="1" height="42"/>
<rect x="112" y="647" width="1" height="44"/>
<rect x="120" y="644" width="1" height="47"/>
<rect x="128" y="642" width="1" height="49"/>
<rect x="136" y="645" width="1" height="46"/>
<rect x="144" y="645" width="1" height="46"/>
<rect x="152" y="646" width="1" height="45"/>
<rect x="160" y="644" width="1" height="47"/>
<rect x="168" y="643" width="1" height="48"/>
<rect x="176" y="642" width="1" height="49"/>
<rect x="184" y="669" width="1" height="22"/>
<rect x="192" y="690" width="1" height="6"/>
<rect x="200" y="690" width="1" height="25"/>
<rect x="208" y="690" width="1" height="53"/>
<rect x="216" y="690" width="1" height="67"/>
<rect x="224" y="690" width="1" height="66"/>
<rect x="232" y="690" width="1" height="61"/>
<rect x="240" y="690" width="1" height="58"/>
<rect x="248" y="690" width="1" height="50"/>
<rect x="256" y="690" width="1" height="46"/>
<rect x="264" y="690" width="1" height="40"/>
<rect x="272" y="690" width="1" height="37"/>
<rect x="280" y="690" width="1" height="30"/>
<rect x="288" y="690" width="1" height="30"/>
<rect x="296" y="690" width="1" height="32"/>
<rect x="304" y="690" width="1" height="32"/>
<rect x="312" y="690" width="1" height="31"/>
<rect x="320" y="690" width="1" height="32"/>
<rect x="328" y="690" width="1" height="37"/>
<rect x="336" y="690" width="1" height="27"/>
<rect x="344" y="690" width="1" height="16"/>
<rect x="352" y="690" width="1" height="9"/>
<rect x="360" y="690" width="1" height="4"/>
<rect x="368" y="679" width="1" height="12"/>
<rect x="376" y="663" width="1" height="28"/>
<rect x="384" y="647" width="1" height="44"/>
<rect x="392" y="636" width="1" height="55"/>
<rect x="400" y="628" width="1" height="63"/>
<rect x="408" y="618" width="1" height="73"/>
<rect x="416" y="610" width="1" height="81"/>
<rect x="424" y="602" width="1" height="89"/>
<rect x="432" y="603" width="1" height="88"/>
<rect x="440" y="605" width="1" height="86"/>
<rect x="448" y="608" width="1" height="83"/>
<rect x="456" y="616" width="1" height="75"/>
<rect x="464" y="622" width="1" height="69"/>
<rect x="472" y="628" width="1" height="63"/>
<rect x="480" y="632" width="1" height="59"/>
<rect x="488" y="641" width="1" height="50"/>
<rect x="496" y="649" width="1" height="42"/>
<rect x="504" y="656" width="1" height="35"/>
<rect x="512" y="660" width="1" height="31"/>
<rect x="520" y="667" width="1" height="24"/>
<rect x="528" y="672" width="1" height="19"/>
<rect x="536" y="682" width="1" height="9"/>
<rect x="544" y="687" width="1" height="4"/>
<rect x="552" y="690" width="1" height="1"/>
<rect x="560" y="690" width="1" height="1"/>
<rect x="568" y="683" width="1" height="8"/>
<rect x="576" y="679" width="1" height="12"/>
<rect x="584" y="673" width="1" height="18"/>
<rect x="592" y="669" width="1" height="22"/>
<rect x="600" y="665" width="1" height="26"/>
<rect x="608" y="649" width="1" height="42"/>
<rect x="616" y="641" width="1" height="50"/>
<rect x="624" y="634" width="1" height="57"/>
<rect x="632" y="620" width="1" height="71"/>
<rect x="640" y="612" width="1" height="79"/>
<rect x="648" y="605" width="1" height="86"/>
<rect x="656" y="601" width="1" height="90"/>
<rect x="664" y="598" width="1" height="93"/>
<rect x="672" y="595" width="1" height="96"/>
<rect x="680" y="594" width="1" height="97"/>
<rect x="688" y="594" width="1" height="97"/>
<rect x="696" y="596" width="1" height="95"/>
<rect x="704" y="597" width="1" height="94"/>
<rect x="712" y="598" width="1" height="93"/>
<rect x="720" y="599" width="1" height="92"/>
<rect x="728" y="601" width="1" height="90"/>
<rect x="736" y="603" width="1" height="88"/>
<rect x="744" y="607" width="1" height="84"/>
<rect x="752" y="609" width="1" height="82"/>
<rect x="760" y="614" width="1" height="77"/>
<rect x="768" y="622" width="1" height="69"/>
<rect x="776" y="627" width="1" height="64"/>
<rect x="784" y="630" width="1" height="61"/>
<rect x="792" y="630" width="1" height="61"/>
<rect x="800" y="632" width="1" height="59"/>
<rect x="808" y="633" width="1" height="58"/>
<rect x="816" y="632" width="1" height="59"/>
<rect x="824" y="632" width="1" height="59"/>
<rect x="832" y="630" width="1" height="61"/>
<rect x="840" y="623" width="1" height="68"/>
<rect x="848" y="610" width="1" height="81"/>
<rect x="856" y="601" width="1" height="90"/>
<rect x="864" y="599" width="1" height="92"/>
<rect x="872" y="598" width="1" height="93"/>
<rect x="880" y="597" width="1" height="94"/>
<rect x="888" y="600" width="1" height="91"/>
<rect x="896" y="602" width="1" height="89"/>
<rect x="904" y="603" width="1" height="88"/>
<rect x="912" y="605" width="1" height="86"/>
<rect x="920" y="605" width="1" height="86"/>
<rect x="928" y="609" width="1" height="82"/>
<rect x="936" y="614" width="1" height="77"/>
<rect x="944" y="619" width="1" height="72"/>
<rect x="952" y="630" width="1" height="61"/>
<rect x="960" y="639" width="1" height="52"/>
<rect x="968" y="646" width="1" height="45"/>
<rect x="976" y="651" width="1" height="40"/>
<rect x="984" y="659" width="1" height="32"/>
<rect x="992" y="665" width="1" height="26"/>
<rect x="1000" y="668" width="1" height="23"/>
<rect x="1008" y="672" width="1" height="19"/>
<rect x="1016" y="676" width="1" height="15"/>
<rect x="1024" y="680" width="1" height="11"/>
<rect x="1032" y="683" width="1" height="8"/>
<rect x="1040" y="683" width="1" height="8"/>
<rect x="1048" y="683" width="1" height="8"/>
<rect x="1056" y="685" width="1" height="6"/>
<rect x="1064" y="686" width="1" height="5"/>
<rect x="1072" y="688" width="1" height="3"/>
<rect x="1080" y="690" width="1" height="1"/>
<rect x="1088" y="687" width="1" height="4"/>
<rect x="1096" y="686" width="1" height="5"/>
<rect x="1104" y="687" width="1" height="4"/>
<rect x="1112" y="687" width="1" height="4"/>
<rect x="1120" y="686" width="1" height="5"/>
<rect x="1128" y="681" width="1" height="10"/>
<rect x="1136" y="684" width="1" height="7"/>
<rect x="1144" y="684" width="1" height="7"/>
<rect x="1152" y="684" width="1" height="7"/>
<rect x="1160" y="686" width="1" height="5"/>
<rect x="1168" y="684" width="1" height="7"/>
<rect x="1176" y="684" width="1" height="7"/>
<rect x="1184" y="690" width="1" height="3"/>
<rect x="1192" y="690" width="1" height="12"/>
<rect x="1200" y="690" width="1" height="14"/>
<rect x="1208" y="690" width="1" height="15"/>
<rect x="1216" y="690" width="1" height="21"/>
<rect x="1224" y="690" width="1" height="27"/>
<rect x="1232" y="690" width="1" height="28"/>
<rect x="1240" y="690" width="1" height="29"/>
<rect x="1248" y="690" width="1" height="21"/>
<rect x="1256" y="690" width="1" height="19"/>
<rect x="1264" y="690" width="1" height="16"/>
<rect x="1272" y="690" width="1" height="12"/>
<rect x="1280" y="690" width="1" height="17"/>
<rect x="1288" y="690" width="1" height="25"/>
<rect x="1296" y="690" width="1" height="27"/>
<rect x="1304" y="690" width="1" height="28"/>
<rect x="1312" y="690" width="1" height="34"/>
<rect x="1320" y="690" width="1" height="38"/>
<rect x="1328" y="690" width="1" height="34"/>
<rect x="1336" y="690" width="1" height="28"/>
<rect x="1344" y="690" width="1" height="24"/>
<rect x="1352" y="690" width="1" height="20"/>
</g>
<polyline points="0.5,697.2 8.5,686.1 16.5,676.9 24.5,668.8 32.5,661.7 40.5,656.6 48.5,654.2 56.5,654.0 64.5,654.6 72.5,656.6 80.5,658.3 88.5,658.7 96.5,659.7 104.5,660.1 112.5,659.7 120.5,658.7 128.5,656.0 136.5,652.6 144.5,650.5 152.5,647.9 160.5,646.9 168.5,645.1 176.5,644.9 184.5,646.5 192.5,652.6 200.5,660.7 208.5,670.8 216.5,684.0 224.5,697.2 232.5,709.4 240.5,720.6 248.5,731.7 256.5,738.8 264.5,742.9 272.5,744.5 280.5,741.9 288.5,737.8 296.5,733.8 304.5,730.7 312.5,727.7 320.5,726.3 328.5,725.0 336.5,722.4 344.5,720.6 352.5,719.2 360.5,716.1 368.5,710.4 376.5,703.7 384.5,695.2 392.5,685.7 400.5,674.3 408.5,662.7 416.5,652.6 424.5,642.4 432.5,632.3 440.5,623.7 448.5,617.6 456.5,613.6 464.5,612.0 472.5,612.0 480.5,614.0 488.5,617.0 496.5,623.1 504.5,627.6 512.5,633.7 520.5,640.4 528.5,645.9 536.5,653.6 544.5,660.7 552.5,666.8 560.5,672.9 568.5,676.9 576.5,679.6 584.5,680.6 592.5,681.0 600.5,680.0 608.5,675.9 616.5,669.8 624.5,664.7 632.5,655.6 640.5,648.5 648.5,640.4 656.5,632.9 664.5,624.7 672.5,617.0 680.5,611.0 688.5,605.3 696.5,601.4 704.5,599.8 712.5,598.2 720.5,597.1 728.5,597.1 736.5,598.2 744.5,599.2 752.5,600.8 760.5,603.4 768.5,606.3 776.5,609.5 784.5,613.0 792.5,616.4 800.5,619.5 808.5,622.7 816.5,624.8 824.5,627.8 832.5,629.8 840.5,629.8 848.5,628.2 856.5,624.8 864.5,620.7 872.5,618.1 880.5,613.6 888.5,609.9 896.5,607.5 904.5,603.8 912.5,601.8 920.5,600.8 928.5,601.4 936.5,604.5 944.5,605.9 952.5,609.9 960.5,613.6 968.5,619.1 976.5,623.7 984.5,630.2 992.5,636.7 1000.5,644.0 1008.5,650.4 1016.5,655.4 1024.5,662.2 1032.5,666.7 1040.5,671.2 1048.5,673.5 1056.5,676.9 1064.5,679.9 1072.5,681.9 1080.5,683.7 1088.5,685.3 1096.5,686.0 1104.5,686.0 1112.5,687.1 1120.5,687.1 1128.5,686.7 1136.5,686.0 1144.5,686.0 1152.5,685.3 1160.5,685.3 1168.5,685.3 1176.5,685.3 1184.5,685.3 1192.5,686.7 1200.5,690.1 1208.5,691.7 1216.5,693.9 1224.5,698.5 1232.5,703.0 1240.5,707.1 1248.5,710.9 1256.5,711.6 1264.5,712.1 1272.5,712.1 1280.5,712.1 1288.5,712.8 1296.5,713.2 1304.5,713.2 1312.5,713.2 1320.5,715.5 1328.5,716.6 1336.5,717.7 1344.5,718.9 1352.5,720.0" fill="none" stroke="#ff0000" stroke-width="1" stroke-dasharray="3 3"/>
</g>
<text x="4" y="596" font-size="10.4" fill="#000" stroke="#000" stroke-width="0.25" textLength="123" lengthAdjust="spacingAndGlyphs">MACD(12,26,9) -32.71 -47.51</text>
<g font-size="10.3" fill="#000" stroke="#000" stroke-width="0.2">
<text x="1632.5" y="594" textLength="27" lengthAdjust="spacingAndGlyphs">172.31</text>
<rect x="1629" y="690" width="2" height="1" stroke="none"/>
<text x="1632.5" y="693.5" textLength="18" lengthAdjust="spacingAndGlyphs">0.00</text>
<text x="1632" y="763" textLength="30.5" lengthAdjust="spacingAndGlyphs">-124.17</text>
</g>
<g clip-path="url(#cr)">
<line x1="0" y1="801.5" x2="1628" y2="801.5" stroke="#c0c0c0" stroke-width="1" stroke-dasharray="3 3"/>
<line x1="0" y1="848.5" x2="1628" y2="848.5" stroke="#c0c0c0" stroke-width="1" stroke-dasharray="3 3"/>
<line x1="0" y1="904.5" x2="1628" y2="904.5" stroke="#c0c0c0" stroke-width="1" stroke-dasharray="3 3"/>
<polyline points="0.5,832.9 8.5,837.6 16.5,832.9 24.5,833.9 32.5,833.9 40.5,840.6 48.5,852.8 56.5,855.8 64.5,849.7 72.5,843.0 80.5,839.6 88.5,829.0 96.5,833.5 104.5,829.0 112.5,835.9 120.5,832.9 128.5,831.9 136.5,840.6 144.5,835.9 152.5,839.0 160.5,831.9 168.5,832.9 176.5,831.9 184.5,873.5 192.5,879.8 200.5,875.1 208.5,884.9 216.5,872.1 224.5,858.9 232.5,854.8 240.5,855.8 248.5,853.4 256.5,853.8 264.5,849.7 272.5,854.8 280.5,847.1 288.5,854.8 296.5,858.9 304.5,854.8 312.5,854.8 320.5,858.3 328.5,862.5 336.5,844.7 344.5,841.0 352.5,842.6 360.5,844.7 368.5,831.5 376.5,827.4 384.5,824.8 392.5,825.8 400.5,826.8 408.5,821.7 416.5,821.7 424.5,817.7 432.5,831.9 440.5,831.9 448.5,833.5 456.5,841.6 464.5,839.6 472.5,841.0 480.5,838.6 488.5,849.7 496.5,848.7 504.5,850.1 512.5,845.7 520.5,854.8 528.5,851.8 536.5,860.9 544.5,856.8 552.5,858.9 560.5,849.7 568.5,834.9 576.5,836.9 584.5,836.5 592.5,834.9 600.5,833.9 608.5,816.8 616.5,825.8 624.5,823.7 632.5,814.8 640.5,819.7 648.5,818.9 656.5,818.9 664.5,818.5 672.5,816.8 680.5,816.6 688.5,817.9 696.5,817.9 704.5,816.6 712.5,814.8 720.5,813.8 728.5,813.8 736.5,812.8 744.5,817.9 752.5,815.6 760.5,826.4 768.5,836.9 776.5,831.5 784.5,829.8 792.5,821.7 800.5,825.8 808.5,823.7 816.5,818.9 824.5,820.7 832.5,814.6 840.5,806.1 848.5,798.0 856.5,803.0 864.5,812.8 872.5,812.8 880.5,810.8 888.5,821.7 896.5,818.9 904.5,818.9 912.5,815.8 920.5,813.2 928.5,824.0 936.5,826.8 944.5,827.8 952.5,849.7 960.5,847.7 968.5,844.7 976.5,843.6 984.5,854.8 992.5,849.7 1000.5,846.6 1008.5,850.4 1016.5,852.7 1024.5,852.7 1032.5,853.8 1040.5,843.6 1048.5,845.9 1056.5,850.9 1064.5,849.8 1072.5,852.0 1080.5,855.7 1088.5,837.5 1096.5,841.4 1104.5,851.6 1112.5,847.7 1120.5,846.4 1128.5,827.8 1136.5,852.0 1144.5,848.9 1152.5,848.6 1160.5,844.8 1168.5,844.8 1176.5,844.1 1184.5,870.4 1192.5,872.7 1200.5,856.8 1208.5,858.8 1216.5,867.5 1224.5,870.9 1232.5,859.5 1240.5,860.6 1248.5,845.9 1256.5,848.6 1264.5,850.9 1272.5,846.6 1280.5,861.8 1288.5,869.7 1296.5,860.6 1304.5,860.6 1312.5,869.0 1320.5,869.0 1328.5,851.6 1336.5,849.8 1344.5,848.9 1352.5,848.9" fill="none" stroke="#1e90ff" stroke-width="1" />
</g>
<text x="4" y="781" font-size="10.4" fill="#000" stroke="#000" stroke-width="0.25" textLength="67" lengthAdjust="spacingAndGlyphs">RSI(14) 50.2141</text>
<g font-size="10.3" fill="#000" stroke="#000" stroke-width="0.2">
<text x="1632.5" y="779" textLength="14" lengthAdjust="spacingAndGlyphs">100</text>
<text x="1631.5" y="804.5" textLength="9.5" lengthAdjust="spacingAndGlyphs">80</text>
<text x="1631.5" y="851.5" textLength="9.5" lengthAdjust="spacingAndGlyphs">50</text>
<text x="1631.5" y="908" textLength="9.5" lengthAdjust="spacingAndGlyphs">15</text>
<text x="1632" y="925" textLength="5" lengthAdjust="spacingAndGlyphs">0</text>
</g>
<g font-size="10.4" fill="#000" stroke="#000" stroke-width="0.25">
<rect x="0" y="929" width="1" height="3" stroke="none"/>
<text x="-0.5" y="941.2" textLength="52.7" lengthAdjust="spacingAndGlyphs">19 Aug 2019</text>
<rect x="64" y="929" width="1" height="3" stroke="none"/>
<text x="63" y="941.2" textLength="55.3" lengthAdjust="spacingAndGlyphs">21 Aug 00:00</text>
<rect x="128" y="929" width="1" height="3" stroke="none"/>
<text x="127" y="941.2" textLength="55.3" lengthAdjust="spacingAndGlyphs">22 Aug 08:00</text>
<rect x="192" y="929" width="1" height="3" stroke="none"/>
<text x="191" y="941.2" textLength="55.3" lengthAdjust="spacingAndGlyphs">23 Aug 16:00</text>
<rect x="256" y="929" width="1" height="3" stroke="none"/>
<text x="255" y="941.2" textLength="55.3" lengthAdjust="spacingAndGlyphs">26 Aug 20:00</text>
<rect x="320" y="929" width="1" height="3" stroke="none"/>
<text x="319" y="941.2" textLength="55.3" lengthAdjust="spacingAndGlyphs">28 Aug 04:00</text>
<rect x="384" y="929" width="1" height="3" stroke="none"/>
<text x="383" y="941.2" textLength="55.3" lengthAdjust="spacingAndGlyphs">29 Aug 12:00</text>
<rect x="448" y="929" width="1" height="3" stroke="none"/>
<text x="447" y="941.2" textLength="55.3" lengthAdjust="spacingAndGlyphs">30 Aug 20:00</text>
<rect x="512" y="929" width="1" height="3" stroke="none"/>
<text x="511" y="941.2" textLength="50.6" lengthAdjust="spacingAndGlyphs">3 Sep 00:00</text>
<rect x="576" y="929" width="1" height="3" stroke="none"/>
<text x="575" y="941.2" textLength="50.6" lengthAdjust="spacingAndGlyphs">4 Sep 08:00</text>
<rect x="640" y="929" width="1" height="3" stroke="none"/>
<text x="639" y="941.2" textLength="50.6" lengthAdjust="spacingAndGlyphs">5 Sep 16:00</text>
<rect x="704" y="929" width="1" height="3" stroke="none"/>
<text x="703" y="941.2" textLength="50.6" lengthAdjust="spacingAndGlyphs">8 Sep 23:00</text>
<rect x="768" y="929" width="1" height="3" stroke="none"/>
<text x="767" y="941.2" textLength="55.8" lengthAdjust="spacingAndGlyphs">10 Sep 04:00</text>
<rect x="832" y="929" width="1" height="3" stroke="none"/>
<text x="831" y="941.2" textLength="55.1" lengthAdjust="spacingAndGlyphs">11 Sep 12:00</text>
<rect x="896" y="929" width="1" height="3" stroke="none"/>
<text x="895" y="941.2" textLength="55.8" lengthAdjust="spacingAndGlyphs">12 Sep 20:00</text>
<rect x="960" y="929" width="1" height="3" stroke="none"/>
<text x="959" y="941.2" textLength="55.8" lengthAdjust="spacingAndGlyphs">16 Sep 00:00</text>
<rect x="1024" y="929" width="1" height="3" stroke="none"/>
<text x="1023" y="941.2" textLength="55.8" lengthAdjust="spacingAndGlyphs">17 Sep 08:00</text>
<rect x="1088" y="929" width="1" height="3" stroke="none"/>
<text x="1087" y="941.2" textLength="55.8" lengthAdjust="spacingAndGlyphs">18 Sep 16:00</text>
<rect x="1152" y="929" width="1" height="3" stroke="none"/>
<text x="1151" y="941.2" textLength="55.8" lengthAdjust="spacingAndGlyphs">20 Sep 00:00</text>
<rect x="1216" y="929" width="1" height="3" stroke="none"/>
<text x="1215" y="941.2" textLength="55.8" lengthAdjust="spacingAndGlyphs">23 Sep 04:00</text>
<rect x="1280" y="929" width="1" height="3" stroke="none"/>
<text x="1279" y="941.2" textLength="55.8" lengthAdjust="spacingAndGlyphs">24 Sep 12:00</text>
<rect x="1344" y="929" width="1" height="3" stroke="none"/>
<text x="1343" y="941.2" textLength="55.8" lengthAdjust="spacingAndGlyphs">25 Sep 20:00</text>
</g>
<path d="M3 39.3 L10 39.3 L6.5 34.8 Z" fill="#000" shape-rendering="auto"/>
<text x="15" y="40" font-size="10.5" fill="#000" stroke="#000" stroke-width="0.25" textLength="186" lengthAdjust="spacingAndGlyphs" xml:space="preserve">DJ30-,H4  26956.0 26956.0 26956.0 26956.0</text>
<path d="M1362 29 L1372 29 L1367 34 Z" fill="#c0c0c0" shape-rendering="auto"/>
</svg>
<div id="tb"></div><div id="tbl0"></div><div id="tbl1"></div><div id="tbl2"></div><div id="redge"></div><div id="bedge"></div>
<svg width="1675" height="24" viewBox="0 0 1675 24" style="position:absolute;left:0;top:0" font-family="Liberation Sans, Noto Sans CJK SC, sans-serif">
<defs><pattern id="chk" width="2" height="2" patternUnits="userSpaceOnUse"><rect width="2" height="2" fill="#ffffff"/><rect width="1" height="1" fill="#f0f0f0"/><rect x="1" y="1" width="1" height="1" fill="#f0f0f0"/></pattern><linearGradient id="gold" x1="0" y1="0" x2="1" y2="1"><stop offset="0" stop-color="#ffe870"/><stop offset="0.5" stop-color="#e8b020"/><stop offset="1" stop-color="#b07810"/></linearGradient><linearGradient id="grn" x1="0" y1="0" x2="0" y2="1"><stop offset="0" stop-color="#60e060"/><stop offset="1" stop-color="#10a010"/></linearGradient><linearGradient id="blu" x1="0" y1="0" x2="0" y2="1"><stop offset="0" stop-color="#50b0ff"/><stop offset="1" stop-color="#1060d0"/></linearGradient><radialGradient id="lens"><stop offset="0" stop-color="#f0faff"/><stop offset="1" stop-color="#a8d8f0"/></radialGradient></defs>
<g><path d="M0 4.5 L7.5 4.5 L10.5 7.5 L10.5 16.5 L0 16.5 Z" fill="#fcfcfc" stroke="#909090" stroke-width="1"/><path d="M7.5 4.5 L7.5 7.5 L10.5 7.5" fill="#e0e0e0" stroke="#909090" stroke-width="1"/><rect x="1" y="6.5" width="3" height="1.2" fill="#808080"/><rect x="1" y="9.5" width="7" height="1" fill="#a0a0a0"/><rect x="1" y="12" width="5" height="1" fill="#a0a0a0"/><path d="M7.199999999999999 10.200000000000001 h3.8 v3.6999999999999997 h3.6999999999999997 v3.8 h-3.6999999999999997 v3.6999999999999997 h-3.8 v-3.6999999999999997 h-3.6999999999999997 v-3.8 h3.6999999999999997 Z" fill="url(#grn)" stroke="#0a8a0a" stroke-width="0.8" stroke-linejoin="miter"/></g>
<text x="17.7" y="15.1" font-size="12.2" fill="#000" stroke="#000" stroke-width="0.25" textLength="36" lengthAdjust="spacingAndGlyphs">新订单</text>
<path d="M66.5 13.5 L71.5 5.2 L81.5 12 L75 19.5 Z" fill="url(#gold)" stroke="#a06a10" stroke-width="1" stroke-linejoin="round"/>
<path d="M66.5 13.5 L75 19.5 L81.5 12 L81.8 13.5 L75.2 20.8 L66.3 14.8 Z" fill="#c89020" stroke="#8a5a08" stroke-width="0.6"/>
<path d="M96.5 5.5 L99 4 L106.5 4.5 L106.5 14 L96.5 14 Z" fill="url(#blu)" stroke="#1a6ad8" stroke-width="0.8"/>
<rect x="100" y="6.5" width="5" height="1.3" fill="#d0ecff"/><rect x="100" y="9" width="5" height="1" fill="#d0ecff"/>
<path d="M96 19.5 C93 19.5 93 15.5 96 15.2 C96.5 12.5 100 12.2 101.2 14 C103 12.2 106.5 13 106.5 15.2 C110 15.2 110.5 19.5 107.5 19.5 Z" fill="#eef2f8" stroke="#6884b8" stroke-width="1"/>
<g fill="none" stroke-width="1.3"><path d="M130 4.5 A7.5 7.5 0 0 0 126 18.3" stroke="#7098e0"/><path d="M130 7 A5 5 0 0 0 127.2 16.2" stroke="#5080d8"/><path d="M130 4.5 A7.5 7.5 0 0 1 134 18.3" stroke="#70b070"/><path d="M130 7 A5 5 0 0 1 132.8 16.2" stroke="#60a860"/></g>
<circle cx="130" cy="11.8" r="2" fill="#3060d0"/><rect x="129.6" y="12" width="1.6" height="7.5" fill="#20a020"/>
<path d="M130.4 12 L130.4 19.6 A7.8 7.8 0 0 0 137.6 13.5 Z" fill="#40b040" fill-opacity="0.45"/>
<path d="M150 11 L164.5 10.5 L163 14 L158 19.5 L153 17.5 Z" fill="#ffe060" stroke="#d0a020" stroke-width="0.8"/>
<ellipse cx="157" cy="9.5" rx="8" ry="2.6" fill="#58b0e8" stroke="#3080c0" stroke-width="0.8"/>
<path d="M152.5 9 C153 4 161 4 161.5 9 Z" fill="#70c0f0" stroke="#3080c0" stroke-width="0.8"/>
<circle cx="161.5" cy="15.8" r="4" fill="#e02810" stroke="#b01000" stroke-width="0.6"/><rect x="159.8" y="14.1" width="3.4" height="3.4" fill="#fff"/>
<text x="170.7" y="15.3" font-size="12.2" fill="#000" stroke="#000" stroke-width="0.25" textLength="47" lengthAdjust="spacingAndGlyphs">自动交易</text>
<rect x="225" y="1" width="1" height="23" fill="#a0a0a0" shape-rendering="crispEdges"/>
<rect x="226" y="1" width="1" height="23" fill="#fff"/>
<rect x="229" y="2" width="3" height="1" fill="#a8a8a8" shape-rendering="crispEdges"/>
<rect x="229" y="4" width="3" height="1" fill="#a8a8a8" shape-rendering="crispEdges"/>
<rect x="229" y="6" width="3" height="1" fill="#a8a8a8" shape-rendering="crispEdges"/>
<rect x="229" y="8" width="3" height="1" fill="#a8a8a8" shape-rendering="crispEdges"/>
<rect x="229" y="10" width="3" height="1" fill="#a8a8a8" shape-rendering="crispEdges"/>
<rect x="229" y="12" width="3" height="1" fill="#a8a8a8" shape-rendering="crispEdges"/>
<rect x="229" y="14" width="3" height="1" fill="#a8a8a8" shape-rendering="crispEdges"/>
<rect x="229" y="16" width="3" height="1" fill="#a8a8a8" shape-rendering="crispEdges"/>
<rect x="229" y="18" width="3" height="1" fill="#a8a8a8" shape-rendering="crispEdges"/>
<rect x="229" y="20" width="3" height="1" fill="#a8a8a8" shape-rendering="crispEdges"/>
<g stroke="#505050" stroke-width="1" fill="#505050" shape-rendering="crispEdges"><rect x="243" y="7" width="1" height="13" stroke="none"/><rect x="240" y="17" width="14" height="1" stroke="none"/><path d="M241.5 8.5 L243.5 6 L245.5 8.5 Z" stroke="none" shape-rendering="auto"/><path d="M252.5 15.5 L255 17.5 L252.5 19.5 Z" stroke="none" shape-rendering="auto"/></g>
<g fill="#109010" shape-rendering="crispEdges"><rect x="249" y="7" width="1" height="9"/><rect x="250" y="8" width="2" height="1"/><rect x="247" y="14" width="2" height="1"/></g>
<rect x="263" y="0" width="25" height="22" fill="url(#chk)" shape-rendering="crispEdges"/>
<rect x="263" y="0" width="25" height="1" fill="#a0a0a0" shape-rendering="crispEdges"/>
<rect x="263" y="0" width="1" height="22" fill="#a0a0a0" shape-rendering="crispEdges"/>
<rect x="287" y="1" width="1" height="21" fill="#ffffff" shape-rendering="crispEdges"/>
<g stroke="#505050" stroke-width="1" fill="#505050" shape-rendering="crispEdges"><rect x="271" y="7" width="1" height="13" stroke="none"/><rect x="268" y="17" width="14" height="1" stroke="none"/><path d="M269.5 8.5 L271.5 6 L273.5 8.5 Z" stroke="none" shape-rendering="auto"/><path d="M280.5 15.5 L283 17.5 L280.5 19.5 Z" stroke="none" shape-rendering="auto"/></g>
<rect x="277" y="4" width="1" height="12" fill="#109010" shape-rendering="crispEdges"/><rect x="275.5" y="6.5" width="4" height="7" fill="#40e040" stroke="#109010" stroke-width="1" shape-rendering="crispEdges"/>
<g stroke="#505050" stroke-width="1" fill="#505050" shape-rendering="crispEdges"><rect x="299" y="7" width="1" height="13" stroke="none"/><rect x="296" y="17" width="14" height="1" stroke="none"/><path d="M297.5 8.5 L299.5 6 L301.5 8.5 Z" stroke="none" shape-rendering="auto"/><path d="M308.5 15.5 L311 17.5 L308.5 19.5 Z" stroke="none" shape-rendering="auto"/></g>
<path d="M298 14.5 C301 13 303 8 305 9.5 C307 11 309 13 310.5 13" fill="none" stroke="#30a030" stroke-width="1.2"/>
<rect x="320" y="1" width="1" height="21" fill="#a0a0a0" shape-rendering="crispEdges"/>
<path d="M339 13.5 L344.5 18.5" stroke="#a07810" stroke-width="3.4" stroke-linecap="round"/>
<path d="M339.5 14 L344.3 18.3" stroke="#f0d040" stroke-width="1.8" stroke-linecap="round"/>
<circle cx="335" cy="10" r="5.6" fill="url(#lens)" stroke="#3a78c8" stroke-width="1.3"/>
<rect x="332" y="9.2" width="6" height="1.7" fill="#3a80b0"/>
<rect x="334.15" y="7" width="1.7" height="6" fill="#3a80b0"/>
<path d="M367 13.5 L372.5 18.5" stroke="#a07810" stroke-width="3.4" stroke-linecap="round"/>
<path d="M367.5 14 L372.3 18.3" stroke="#f0d040" stroke-width="1.8" stroke-linecap="round"/>
<circle cx="363" cy="10" r="5.6" fill="url(#lens)" stroke="#3a78c8" stroke-width="1.3"/>
<rect x="360" y="9.2" width="6" height="1.7" fill="#3a80b0"/>
<g shape-rendering="crispEdges"><rect x="385" y="4" width="8" height="8" fill="#38a018"/><rect x="393" y="4" width="8" height="8" fill="#1858d0"/><rect x="385" y="12" width="8" height="8" fill="#1858d0"/><rect x="393" y="12" width="8" height="8" fill="#38a018"/><rect x="386" y="7" width="6" height="4" fill="#fff"/><rect x="394" y="7" width="6" height="4" fill="#fff"/><rect x="386" y="15" width="6" height="4" fill="#fff"/><rect x="394" y="15" width="6" height="4" fill="#fff"/><rect x="387" y="8" width="4" height="1" fill="#90d070"/><rect x="395" y="8" width="4" height="1" fill="#90b0f0"/><rect x="387" y="16" width="4" height="1" fill="#90b0f0"/><rect x="395" y="16" width="4" height="1" fill="#90d070"/></g>
<rect x="410" y="1" width="1" height="21" fill="#a0a0a0" shape-rendering="crispEdges"/>
<rect x="415" y="0" width="25" height="22" fill="url(#chk)" shape-rendering="crispEdges"/>
<rect x="415" y="0" width="25" height="1" fill="#a0a0a0" shape-rendering="crispEdges"/>
<rect x="415" y="0" width="1" height="22" fill="#a0a0a0" shape-rendering="crispEdges"/>
<rect x="439" y="1" width="1" height="21" fill="#ffffff" shape-rendering="crispEdges"/>
<g stroke="#505050" stroke-width="1" fill="#505050" shape-rendering="crispEdges"><rect x="423" y="7" width="1" height="13" stroke="none"/><rect x="420" y="17" width="14" height="1" stroke="none"/><path d="M421.5 8.5 L423.5 6 L425.5 8.5 Z" stroke="none" shape-rendering="auto"/><path d="M432.5 15.5 L435 17.5 L432.5 19.5 Z" stroke="none" shape-rendering="auto"/></g>
<path d="M428 8 L432 11.5 L428 15 Z" fill="#40e040" stroke="#109010" stroke-width="0.9"/>
<rect x="443" y="0" width="25" height="22" fill="url(#chk)" shape-rendering="crispEdges"/>
<rect x="443" y="0" width="25" height="1" fill="#a0a0a0" shape-rendering="crispEdges"/>
<rect x="443" y="0" width="1" height="22" fill="#a0a0a0" shape-rendering="crispEdges"/>
<rect x="467" y="1" width="1" height="21" fill="#ffffff" shape-rendering="crispEdges"/>
<g stroke="#505050" stroke-width="1" fill="#505050" shape-rendering="crispEdges"><rect x="451" y="7" width="1" height="13" stroke="none"/><rect x="448" y="17" width="14" height="1" stroke="none"/><path d="M449.5 8.5 L451.5 6 L453.5 8.5 Z" stroke="none" shape-rendering="auto"/><path d="M460.5 15.5 L463 17.5 L460.5 19.5 Z" stroke="none" shape-rendering="auto"/></g>
<rect x="457" y="6" width="1" height="10" fill="#1070b0" shape-rendering="crispEdges"/><path d="M458.6 11.5 L461 9.3 L461 10.9 L463 10.9 L463 12.1 L461 12.1 L461 13.7 Z" fill="#f06010"/>
<rect x="472" y="1" width="1" height="21" fill="#a0a0a0" shape-rendering="crispEdges"/>
<path d="M482.5 5 L489 5 L492 8 L492 16.5 L482.5 16.5 Z" fill="#f8f8f0" stroke="#808080" stroke-width="1"/><path d="M489 5 L489 8 L492 8" fill="#d8d8d8" stroke="#808080" stroke-width="0.8"/>
<text x="484" y="14" font-size="9" font-style="italic" fill="#806030" font-family="Liberation Serif, serif">f</text>
<path d="M490.4 10.1 h3.6 v3.8 h3.8 v3.6 h-3.8 v3.8 h-3.6 v-3.8 h-3.8 v-3.6 h3.8 Z" fill="url(#grn)" stroke="#0a8a0a" stroke-width="0.8" stroke-linejoin="miter"/>
<path d="M504 11 L510 11 L507 14 Z" fill="#000"/>
<circle cx="528.1" cy="11.7" r="7.6" fill="url(#blu)" stroke="#1848a0" stroke-width="0.8"/><circle cx="528.1" cy="11.7" r="5.3" fill="#f4f6fa"/><path d="M528 8 L528 12 L530.8 12.6" fill="none" stroke="#303030" stroke-width="1.2"/>
<path d="M543 11 L549 11 L546 14 Z" fill="#000"/>
<rect x="559.5" y="5.5" width="15" height="13" fill="#fff" stroke="#3a70c8" stroke-width="1"/><rect x="560" y="6" width="14" height="2" fill="#5890e0"/><rect x="560" y="12.6" width="14" height="0.9" fill="#5890e0"/><path d="M561.5 11.5 L564 10.8 L566 11.5 L568.5 10 L571 10.5 L573 9.5" fill="none" stroke="#c02010" stroke-width="1"/><path d="M561.5 16.5 L564 15.5 L566 16 L568.5 14.2 L571 16 L573 15" fill="none" stroke="#209020" stroke-width="1"/>
<path d="M582 11 L588 11 L585 14 Z" fill="#000"/>
<rect x="593" y="1" width="1" height="23" fill="#a0a0a0" shape-rendering="crispEdges"/>
<rect x="594" y="1" width="1" height="23" fill="#fff"/>
<rect x="597" y="2" width="3" height="1" fill="#a8a8a8" shape-rendering="crispEdges"/>
<rect x="597" y="4" width="3" height="1" fill="#a8a8a8" shape-rendering="crispEdges"/>
<rect x="597" y="6" width="3" height="1" fill="#a8a8a8" shape-rendering="crispEdges"/>
<rect x="597" y="8" width="3" height="1" fill="#a8a8a8" shape-rendering="crispEdges"/>
<rect x="597" y="10" width="3" height="1" fill="#a8a8a8" shape-rendering="crispEdges"/>
<rect x="597" y="12" width="3" height="1" fill="#a8a8a8" shape-rendering="crispEdges"/>
<rect x="597" y="14" width="3" height="1" fill="#a8a8a8" shape-rendering="crispEdges"/>
<rect x="597" y="16" width="3" height="1" fill="#a8a8a8" shape-rendering="crispEdges"/>
<rect x="597" y="18" width="3" height="1" fill="#a8a8a8" shape-rendering="crispEdges"/>
<rect x="597" y="20" width="3" height="1" fill="#a8a8a8" shape-rendering="crispEdges"/>
<rect x="603" y="0" width="25" height="22" fill="url(#chk)" shape-rendering="crispEdges"/>
<rect x="603" y="0" width="25" height="1" fill="#a0a0a0" shape-rendering="crispEdges"/>
<rect x="603" y="0" width="1" height="22" fill="#a0a0a0" shape-rendering="crispEdges"/>
<rect x="627" y="1" width="1" height="21" fill="#ffffff" shape-rendering="crispEdges"/>
<path d="M610 4.5 L610 17 L613 14.2 L615.2 19 L617 18.2 L614.8 13.5 L619 13.5 Z" fill="#404040"/>
<g fill="#404040" shape-rendering="crispEdges"><rect x="643" y="5" width="1" height="15"/><rect x="636" y="12" width="15" height="1"/></g><rect x="643" y="12" width="1" height="1" fill="#f0f0f0"/>
<rect x="660" y="1" width="1" height="21" fill="#a0a0a0" shape-rendering="crispEdges"/>
<g fill="#404040" shape-rendering="crispEdges"><rect x="677" y="6" width="1" height="13"/><rect x="700" y="12" width="12" height="1"/></g>
<path d="M727.5 18.5 L740 6.5" stroke="#505050" stroke-width="1.1"/>
<g stroke="#505050" stroke-width="1" fill="none"><path d="M754 16 L767 7"/><path d="M756.5 19 L769 10"/><path d="M757 11 L759 19 M760.5 9.5 L762.5 17.5 M764 6.5 L766 15"/></g>
<text x="765" y="20.5" font-size="6.5" font-weight="bold" fill="#303030">E</text>
<g fill="#606060" shape-rendering="crispEdges"><rect x="783" y="6" width="1" height="1"/><rect x="785" y="6" width="1" height="1"/><rect x="787" y="6" width="1" height="1"/><rect x="789" y="6" width="1" height="1"/><rect x="791" y="6" width="1" height="1"/><rect x="793" y="6" width="1" height="1"/><rect x="795" y="6" width="1" height="1"/><rect x="783" y="9" width="1" height="1"/><rect x="785" y="9" width="1" height="1"/><rect x="787" y="9" width="1" height="1"/><rect x="789" y="9" width="1" height="1"/><rect x="791" y="9" width="1" height="1"/><rect x="793" y="9" width="1" height="1"/><rect x="795" y="9" width="1" height="1"/><rect x="783" y="13" width="1" height="1"/><rect x="785" y="13" width="1" height="1"/><rect x="787" y="13" width="1" height="1"/><rect x="789" y="13" width="1" height="1"/><rect x="791" y="13" width="1" height="1"/><rect x="793" y="13" width="1" height="1"/><rect x="795" y="13" width="1" height="1"/><rect x="783" y="16" width="1" height="1"/><rect x="785" y="16" width="1" height="1"/><rect x="787" y="16" width="1" height="1"/><rect x="789" y="16" width="1" height="1"/><rect x="791" y="16" width="1" height="1"/><rect x="793" y="16" width="1" height="1"/><rect x="795" y="16" width="1" height="1"/></g>
<text x="793" y="20.5" font-size="6.5" font-weight="bold" fill="#303030">F</text>
<text x="813" y="17" font-size="12" fill="#505050" font-weight="bold" textLength="8.5" lengthAdjust="spacingAndGlyphs">A</text>
<rect x="839.5" y="6.5" width="12" height="12" fill="none" stroke="#606060" stroke-width="1" stroke-dasharray="1 1" shape-rendering="crispEdges"/><text x="841.5" y="17" font-size="11" font-weight="bold" fill="#505050">T</text>
<path d="M868 8 L871 5 L874 8 Z M874 17 L877.5 20 L881 17 Z" fill="#404040"/><path d="M869 12 L871.5 15 L877 9" fill="none" stroke="#404040" stroke-width="1.6"/>
<path d="M887.5 11 L893.5 11 L890.5 14 Z" fill="#000"/>
<rect x="899" y="1" width="1" height="23" fill="#a0a0a0" shape-rendering="crispEdges"/>
<rect x="900" y="1" width="1" height="23" fill="#fff"/>
<rect x="903" y="2" width="3" height="1" fill="#a8a8a8" shape-rendering="crispEdges"/>
<rect x="903" y="4" width="3" height="1" fill="#a8a8a8" shape-rendering="crispEdges"/>
<rect x="903" y="6" width="3" height="1" fill="#a8a8a8" shape-rendering="crispEdges"/>
<rect x="903" y="8" width="3" height="1" fill="#a8a8a8" shape-rendering="crispEdges"/>
<rect x="903" y="10" width="3" height="1" fill="#a8a8a8" shape-rendering="crispEdges"/>
<rect x="903" y="12" width="3" height="1" fill="#a8a8a8" shape-rendering="crispEdges"/>
<rect x="903" y="14" width="3" height="1" fill="#a8a8a8" shape-rendering="crispEdges"/>
<rect x="903" y="16" width="3" height="1" fill="#a8a8a8" shape-rendering="crispEdges"/>
<rect x="903" y="18" width="3" height="1" fill="#a8a8a8" shape-rendering="crispEdges"/>
<rect x="903" y="20" width="3" height="1" fill="#a8a8a8" shape-rendering="crispEdges"/>
<rect x="1049" y="0" width="25" height="22" fill="url(#chk)" shape-rendering="crispEdges"/>
<rect x="1049" y="0" width="25" height="1" fill="#a0a0a0" shape-rendering="crispEdges"/>
<rect x="1049" y="0" width="1" height="22" fill="#a0a0a0" shape-rendering="crispEdges"/>
<rect x="1073" y="1" width="1" height="21" fill="#ffffff" shape-rendering="crispEdges"/>
<text x="914.3" y="16" font-size="9.5" fill="#404040" textLength="13" lengthAdjust="spacingAndGlyphs">M1</text>
<text x="942.6" y="16" font-size="9.5" fill="#404040" textLength="13" lengthAdjust="spacingAndGlyphs">M5</text>
<text x="968.6" y="16" font-size="9.5" fill="#404040" textLength="17.5" lengthAdjust="spacingAndGlyphs">M15</text>
<text x="996.5" y="16" font-size="9.5" fill="#404040" textLength="17.5" lengthAdjust="spacingAndGlyphs">M30</text>
<text x="1027.6" y="16" font-size="9.5" fill="#404040" textLength="11.5" lengthAdjust="spacingAndGlyphs">H1</text>
<text x="1054.5" y="16" font-size="9.5" fill="#404040" textLength="12.3" lengthAdjust="spacingAndGlyphs">H4</text>
<text x="1083.3" y="16" font-size="9.5" fill="#404040" textLength="12" lengthAdjust="spacingAndGlyphs">D1</text>
<text x="1111" y="16" font-size="9.5" fill="#404040" textLength="14" lengthAdjust="spacingAndGlyphs">W1</text>
<text x="1137.5" y="16" font-size="9.5" fill="#404040" textLength="15" lengthAdjust="spacingAndGlyphs">MN</text>
<rect x="1160" y="1" width="1" height="23" fill="#a0a0a0" shape-rendering="crispEdges"/>
<path d="M1627.8 12.2 L1623.2 16.8" stroke="#2050c0" stroke-width="2.6" stroke-linecap="round"/><circle cx="1630.6" cy="9.3" r="3.9" fill="#f8f8ff" stroke="#2a5ad0" stroke-width="1.3"/>
<ellipse cx="1663.3" cy="8.8" rx="6.3" ry="4.6" fill="#f4f4f8" stroke="#a0a0a0" stroke-width="0.9"/><path d="M1665.5 13 L1667 15.5 L1667.3 12.8 Z" fill="#808080"/>
<ellipse cx="1654.2" cy="13.1" rx="5" ry="3.8" fill="#f4f4f8" stroke="#a0a0a0" stroke-width="0.9"/><path d="M1651 16.3 L1651.2 18.8 L1653.2 16.8 Z" fill="#808080"/>
</svg>
<div id="oct" style="position:absolute;left:0;top:0;width:230px;height:115px;">
<style>
#oct .rb{position:absolute;background:linear-gradient(#fa5050,#e63a3a);}
#oct .big{position:absolute;background:linear-gradient(#e13434 0%,#c81e1e 50%,#a80000 100%);}
#oct .t{position:absolute;color:#fff;font-size:12px;line-height:12px;white-space:nowrap;}
</style>
<div style="position:absolute;left:55px;top:48px;width:115px;height:24px;background:#fff;"></div>
<div style="position:absolute;left:112px;top:72px;width:2px;height:40px;background:#fff;"></div>
<div class="rb" style="left:3px;top:48px;width:52px;height:24px;border-top:1px solid #c01818;border-left:1px solid #c01818;border-right:1px solid #c01818;box-sizing:border-box;"></div>
<div class="rb" style="left:170px;top:48px;width:52px;height:24px;border-top:1px solid #c01818;border-left:1px solid #c01818;border-right:1px solid #c01818;box-sizing:border-box;"></div>
<div class="big" style="left:3px;top:72px;width:109px;height:40px;"></div>
<div class="big" style="left:114px;top:72px;width:108px;height:40px;"></div>
<div style="position:absolute;left:7px;top:72px;width:44px;height:1px;background:#b01010;"></div>
<div style="position:absolute;left:174px;top:72px;width:44px;height:1px;background:#b01010;"></div>
<div class="t" style="left:15px;top:54px;transform:scaleX(0.88);transform-origin:0 0;">SELL</div>
<div class="t" style="left:183.5px;top:54px;transform:scaleX(0.94);transform-origin:0 0;">BUY</div>
<div class="t" style="left:19px;top:93px;font-weight:bold;font-size:12.6px;">26954</div>
<div class="t" style="left:129px;top:93px;font-weight:bold;font-size:12.6px;">26965</div>
<div class="t" style="left:57px;top:75.5px;font-size:33px;line-height:33px;transform:scaleX(0.9);transform-origin:0 0;">.5</div>
<div class="t" style="left:168px;top:75.5px;font-size:33px;line-height:33px;transform:scaleX(0.9);transform-origin:0 0;">.5</div>
<!-- spinner -->
<div style="position:absolute;left:57px;top:48px;width:111px;height:22px;box-sizing:border-box;border:1px solid #abadb3;background:#fff;"></div>
<div style="position:absolute;left:58px;top:49px;width:20px;height:20px;background:linear-gradient(#f2f2f2,#dcdcdc);border-right:1px solid #abadb3;"></div>
<div style="position:absolute;left:146px;top:49px;width:21px;height:20px;background:linear-gradient(#f2f2f2,#dcdcdc);border-left:1px solid #abadb3;box-sizing:border-box;"></div>
<svg style="position:absolute;left:57px;top:48px" width="111" height="22"><path d="M7.5 9 L13.5 9 L10.5 12.5 Z" fill="#000"/><path d="M96 12.5 L102 12.5 L99 9 Z" fill="#000"/></svg>
<div style="position:absolute;left:80px;top:52px;width:63px;text-align:right;font-size:11.4px;line-height:14px;color:#000;">1.00</div>
</div>

</body></html>
